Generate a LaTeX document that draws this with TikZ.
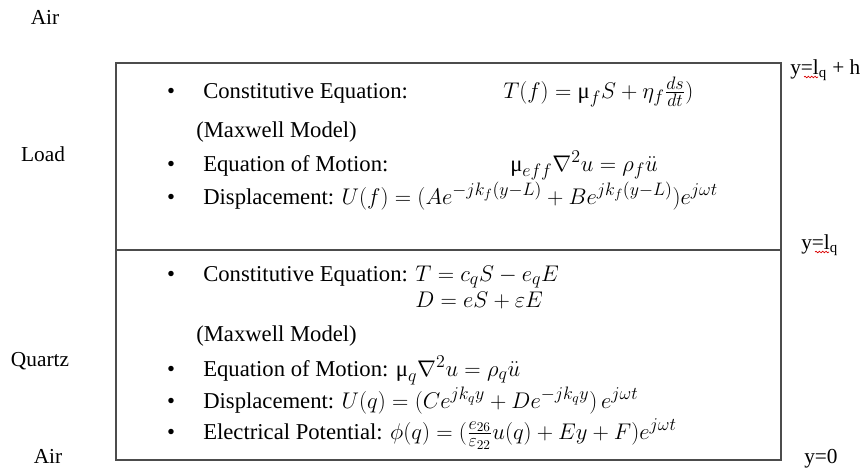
\RequirePackage{fix-cm}
\documentclass[tikz,border=0pt]{standalone}
\usepackage{amsmath}
\usepackage{fontspec}
\setmainfont{Liberation Serif}
\DeclareMathSizes{17}{17}{13.5}{10}
\usetikzlibrary{decorations.pathmorphing}
\newcommand{\umu}{\mbox{μ}}
\begin{document}
\begin{tikzpicture}[x=0.75pt,y=-0.75pt,
  txt/.style={anchor=base west,inner sep=0pt,font=\fontsize{17}{20}\selectfont},
  lbl/.style={anchor=base,inner sep=0pt,font=\fontsize{16}{19}\selectfont},
  rlbl/.style={anchor=base west,inner sep=0pt,font=\fontsize{16}{19}\selectfont},
  blt/.style={anchor=base,inner sep=0pt,font=\fontsize{17}{20}\selectfont},
  frame/.style={draw=black!70,line width=1.2pt},
  spell/.style={draw=red!85!black,line width=0.5pt,decorate,decoration={snake,amplitude=0.6pt,segment length=2.5pt}}]
\useasboundingbox (0,0) rectangle (861,468);
% box
\node[frame,minimum width=665*0.75pt,minimum height=397*0.75pt,anchor=north west,inner sep=0pt] (box) at (115,62) {};
\coordinate (dl) at (115,250);
\coordinate (dr) at (780,250);
\draw[frame] (dl) -- (dr);
% side labels
\node[lbl] (air1) at (45,24) {Air};
\node[lbl] (load) at (43,161) {Load};
\node[lbl] (quartz) at (40,366) {Quartz};
\node[lbl] (air2) at (48,463) {Air};
\node[rlbl] (ytop) at (790,74) {y=l\textsubscript{q} + h};
\node[rlbl] (ymid) at (801,249) {y=l\textsubscript{q}};
\node[rlbl] (ybot) at (804,463) {y=0};
\coordinate (s1a) at (804,77);
\coordinate (s1b) at (818,77);
\coordinate (s2a) at (815,252);
\coordinate (s2b) at (829,252);
\draw[spell] (s1a) -- (s1b);
\draw[spell] (s2a) -- (s2b);
% upper layer
\node[blt] (b1) at (171,98) {\textbullet};
\node[txt] (t1) at (203,98) {Constitutive Equation:};
\node[txt] (e1) at (503,98) {$T(f) = \umu_f S + \eta_f \tfrac{ds}{dt})$};
\node[txt] (t2) at (196,137) {(Maxwell Model)};
\node[blt] (b2) at (171,171) {\textbullet};
\node[txt] (t3) at (203,171) {Equation of Motion:};
\node[txt] (e3) at (510,171) {$\umu_{eff}\nabla^2 u = \rho_f \ddot{u}$};
\node[blt] (b3) at (171,204) {\textbullet};
\node[txt] (t4) at (203,204) {Displacement: $U(f) = (Ae^{-jk_f(y-L)} + Be^{jk_f(y-L)})e^{j\omega t}$};
% lower layer
\node[blt] (b4) at (171,281) {\textbullet};
\node[txt] (t5) at (203,281) {Constitutive Equation: $T = c_q S - e_q E$};
\node[txt] (e5) at (415,307) {$D = eS + \varepsilon E$};
\node[txt] (t6) at (196,341) {(Maxwell Model)};
\node[blt] (b5) at (171,376) {\textbullet};
\node[txt] (t7) at (203,376) {Equation of Motion: $\umu_q \nabla^2 u = \rho_q \ddot{u}$};
\node[blt] (b6) at (171,408) {\textbullet};
\node[txt] (t8) at (203,408) {Displacement: $U(q) = (Ce^{jk_q y} + De^{-jk_q y})\, e^{j\omega t}$};
\node[blt] (b7) at (171,439) {\textbullet};
\node[txt] (t9) at (203,439) {Electrical Potential: $\phi(q) = (\tfrac{e_{26}}{\varepsilon_{22}} u(q) + Ey + F)e^{j\omega t}$};
\end{tikzpicture}
\end{document}
